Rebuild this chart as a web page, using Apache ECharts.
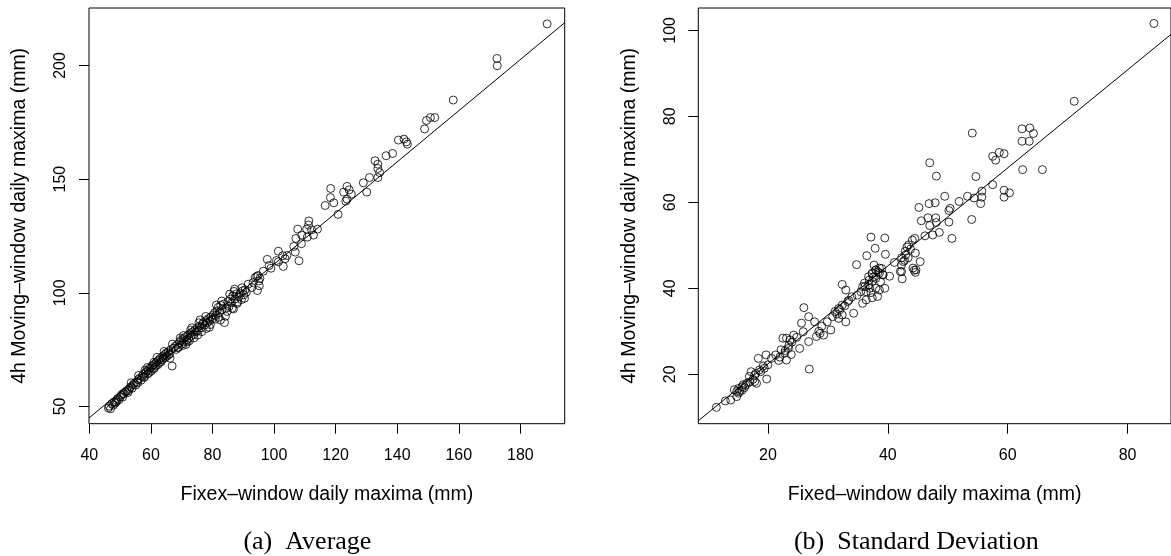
<!DOCTYPE html>
<html>
<head>
<meta charset="utf-8">
<script src="https://cdn.jsdelivr.net/npm/echarts@6/dist/echarts.min.js"></script>
<style>html,body{margin:0;padding:0;background:#fff;}#c{width:1171px;height:556px;}</style>
</head>
<body>
<div id="c"></div>
<script>
// ---------- data ----------
const xTicksA = [40, 60, 80, 100, 120, 140, 160, 180];
const yTicksA = [50, 100, 150, 200];
const xTicksB = [20, 40, 60, 80];
const yTicksB = [20, 40, 60, 80, 100];

const xLimA = [39.9, 194.4];
const yLimA = [42.4, 225.3];
const xLimB = [8.39, 87.25];
const yLimB = [8.5, 105.2];

// fitted line: [intercept, slope]
const fitA = [0, 1.1257];
const fitB = [-0.4, 1.14];

const pointsA = [
  [46.2,49.3],[46.5,50.1],[46.9,49.0],[47.3,51.2],[47.8,50.6],[48.1,52.0],[48.4,51.4],[48.9,52.6],[49.2,53.5],[49.6,52.9],
  [50.1,54.2],[50.4,55.0],[50.8,54.1],[51.3,55.6],[51.7,56.4],[52.2,57.0],[52.5,56.1],[53.0,57.9],[53.4,58.6],[53.9,58.0],
  [54.2,59.5],[54.6,60.2],[55.1,59.4],[55.4,60.9],[55.9,61.8],[56.3,62.4],[56.8,61.5],[57.2,63.3],[57.5,64.1],[57.9,62.8],
  [58.3,64.9],[58.6,65.5],[59.0,64.3],[59.3,66.2],[59.7,66.9],[60.1,65.6],[60.4,67.8],[60.8,68.3],[61.2,67.1],[61.5,69.0],
  [61.9,69.7],[62.3,68.4],[62.6,70.5],[63.0,71.1],[63.4,69.8],[63.8,72.0],[64.1,71.3],[64.5,72.8],[64.9,73.4],[65.2,72.1],
  [65.6,74.0],[66.1,73.3],[66.5,75.0],[66.9,67.8],[67.3,75.6],[67.8,76.4],[68.2,75.1],[68.6,77.3],[69.0,76.0],[69.3,78.2],
  [69.7,79.0],[70.1,77.5],[70.5,79.8],[70.8,78.6],[71.2,80.5],[71.6,79.2],[72.0,81.3],[72.3,80.0],[72.7,82.0],[73.1,81.0],
  [73.5,82.8],[73.9,81.7],[74.3,83.6],[74.7,82.9],[75.0,84.5],[75.4,83.3],[75.8,85.3],[76.0,88.1],[76.3,84.6],[76.7,86.2],
  [77.1,87.0],[77.5,85.8],[77.9,87.8],[78.3,86.9],[78.7,88.6],[79.1,87.7],[79.5,89.4],[79.9,88.5],[80.3,90.3],[80.7,91.2],
  [81.1,90.0],[81.5,92.0],[81.9,93.6],[82.3,91.3],[82.7,94.4],[83.1,92.6],[83.5,95.0],[83.9,86.9],[84.2,89.7],[84.6,93.4],
  [85.0,96.1],[85.4,94.0],[85.8,97.2],[86.2,95.6],[86.6,98.6],[87.0,100.6],[87.4,97.3],[87.8,99.5],[88.2,96.0],[88.6,98.2],
  [89.0,99.8],[89.4,97.0],[89.8,100.9],[90.2,99.1],[90.6,101.3],[91.0,100.2],[92.8,102.3],[93.9,106.7],[94.4,107.2],[94.8,107.6],
  [95.0,105.2],[95.2,103.1],[94.6,101.0],[95.4,106.3],
  [48.7,51.9],[50.9,55.6],[52.8,56.9],[55.7,60.3],[57.7,63.0],[59.5,65.0],[60.9,66.5],[61.7,68.0],[62.9,69.4],[63.7,70.6],
  [64.7,71.6],[65.9,72.8],[68.8,75.9],[70.3,76.8],[71.8,78.4],[72.5,78.9],[74.0,80.2],[76.5,82.9],[78.0,84.3],[79.3,86.0],
  [80.9,88.4],[82.0,89.2],[84.8,91.8],[86.4,93.2],[88.0,95.3],[61.0,69.4],[58.1,66.0],[69.5,80.1],[72.9,83.6],
  [53.6,60.4],[56.0,63.6],[58.9,67.2],[62.0,71.6],[64.3,74.2],[67.0,77.4],[70.6,81.2],[73.3,84.6],[75.6,86.8],[77.8,89.6],
  [81.3,94.6],[83.0,96.4],[85.6,99.4],[87.2,101.6],[89.6,102.2],[91.6,103.8],[66.2,71.2],[71.4,77.3],[75.2,81.4],[79.0,84.8],
  [82.6,88.0],[86.8,92.9],[90.4,97.6],[93.2,104.5],
  [96.5,109.5],[99.0,110.8],
  [97.8,114.7],[98.4,112.0],[101.4,118.3],[100.8,114.2],[101.4,113.6],[102.8,116.3],[103.6,115.0],[103.0,111.6],[104.2,116.4],[108.1,114.1],
  [106.4,120.4],[106.9,117.9],[108.9,121.6],[107.1,123.9],[109.0,125.4],[110.8,124.5],[112.8,125.4],[107.7,128.0],[110.6,128.0],[112.2,127.7],
  [114.1,128.0],[111.2,129.8],[111.3,131.6],[116.6,138.4],[118.3,141.9],[118.4,145.9],[119.4,139.6],[120.8,134.5],[122.6,144.3],[123.7,146.8],
  [124.4,145.3],[125.1,143.4],[123.7,141.2],[123.3,140.3],[129.0,148.4],[130.1,144.3],[131.0,150.7],[133.7,150.7],[134.3,152.9],[133.7,154.7],
  [133.7,156.6],[132.8,158.1],[136.4,160.3],[138.5,161.3],[140.4,167.2],[142.2,167.6],[143.0,166.4],[143.3,165.4],[148.9,172.1],[149.5,175.8],
  [150.8,177.1],[152.2,177.1],[158.2,184.8],[172.4,203.1],[172.5,199.9],[188.7,218.3]
];

const pointsB = [
  [84.4,101.6],[71.1,83.5],[62.4,77.1],[63.7,77.3],[64.3,76.0],[62.4,74.2],[63.6,74.2],[62.5,67.6],[65.8,67.6],[54.1,76.1],
  [57.5,70.7],[58.0,69.8],[58.6,71.6],[59.4,71.3],[57.5,64.1],[59.4,62.8],[60.3,62.2],[59.4,61.2],[55.7,62.6],[55.7,61.2],
  [55.5,59.7],[54.7,66.0],[54.4,61.0],[53.3,61.4],[54.0,56.0],[51.9,60.2],[49.5,61.4],[50.4,58.6],[50.2,58.1],[50.2,55.4],
  [50.7,51.6],[47.0,69.2],[48.1,66.1],[47.9,59.9],[46.9,59.7],[45.2,58.8],[45.6,55.7],[46.7,56.4],[48.0,56.4],[47.0,54.6],
  [48.1,55.3],[48.6,53.0],[47.5,52.4],[46.2,52.2],[44.5,51.6],[44.1,51.2],[43.8,49.1],[44.6,48.2],[43.4,47.1],[42.3,47.1],
  [42.8,46.5],[45.4,46.2],[41.1,46.0],[44.4,44.2],[44.6,43.7],[42.1,43.9],[37.2,51.9],[39.5,51.7],[37.9,49.3],[36.5,47.6],
  [39.6,47.9],[34.8,45.5],[38.6,44.7],[38.0,44.2],[37.4,43.4],[40.3,42.8],[39.2,43.2],
  [42.6,46.2],[42.3,45.4],[44.2,44.7],[44.7,44.3],[42.3,43.9],[42.4,42.2],[37.7,45.4],[38.0,44.3],[37.4,43.5],[36.8,42.7],
  [38.6,43.5],[39.2,43.1],[38.0,42.3],[37.4,41.6],[36.8,40.8],[36.1,41.2],[35.8,40.4],[35.5,39.2],[36.4,39.2],[37.0,40.0],
  [38.0,40.0],[38.6,39.6],[39.5,40.0],[38.3,38.1],[37.4,37.8],[36.4,37.3],[35.8,36.5],[34.3,34.2],[34.9,38.4],[32.4,40.9],
  [33.0,39.6],[33.3,36.9],[32.4,36.1],[31.8,35.3],[31.2,34.6],[30.8,33.4],[31.8,33.0],[33.0,32.2],[32.4,33.8],[29.9,32.2],
  [30.5,30.3],[29.3,29.1],[28.7,29.5],[28.1,28.8],[27.8,32.2],[26.8,33.4],[26.0,35.5],[25.6,31.9],[25.9,29.9],[25.3,26.0],
  [26.8,27.6],[26.9,21.2],[24.3,29.1],[23.7,28.0],[23.1,28.4],[22.5,28.4],[23.4,26.0],[22.8,24.9],[22.2,25.7],[23.1,23.3],
  [21.3,24.5],[20.6,23.7],[19.7,24.5],[20.0,22.2],[19.4,21.4],[18.4,23.7],[18.8,20.6],[19.8,18.9],[17.8,19.8],[17.2,20.6],
  [16.9,19.5],[17.8,18.3],[18.1,17.9],[16.3,17.5],[15.7,17.1],[15.1,16.7],[14.8,16.0],[14.4,16.4],[14.8,14.8],[13.8,14.0],
  [12.9,13.8],[11.4,12.3],[15.1,15.6],[15.7,16.3],
  [15.3,16.0],[15.9,17.6],[16.6,18.0],[17.5,18.8],[18.0,20.2],[18.6,21.0],[19.2,21.9],[17.0,18.2],[16.1,16.9],[22.9,25.5],
  [23.5,26.7],[24.0,27.5],[22.0,24.0],[24.8,28.6],[21.8,23.2],[23.9,24.6],[28.5,30.0],[29.0,31.2],[31.5,34.0],[32.0,35.0],
  [32.8,35.9],[33.5,37.2],[34.0,38.0],[36.2,40.4],[36.9,41.9],[37.6,42.6],[38.4,43.8],[39.0,44.6],[37.2,39.0],[38.8,41.5],
  [42.9,48.6],[43.2,49.6],[43.5,50.1],[43.0,47.8]
];

// ---------- chart ----------
const FONT = 'Liberation Sans, Arial, Helvetica, sans-serif';
const SERIF = 'Liberation Serif, Times New Roman, serif';

function fitLine(fit, xLim) {
  return [[xLim[0], fit[0] + fit[1] * xLim[0]], [xLim[1], fit[0] + fit[1] * xLim[1]]];
}

function xAxis(idx, lim, ticks, name) {
  return {
    gridIndex: idx, type: 'value', min: lim[0], max: lim[1],
    name: name, nameLocation: 'middle', nameGap: 61,
    nameTextStyle: { fontFamily: FONT, fontSize: 19.5, color: '#000' },
    axisLine: { show: false },
    axisTick: { show: true, inside: false, length: 10, customValues: ticks, lineStyle: { color: '#000', width: 1 } },
    axisLabel: { show: true, customValues: ticks, margin: 24, fontFamily: FONT, fontSize: 16, color: '#000' },
    splitLine: { show: false }
  };
}
function yAxis(idx, lim, ticks, name) {
  return {
    gridIndex: idx, type: 'value', min: lim[0], max: lim[1],
    name: name, nameLocation: 'middle', nameGap: 59,
    nameTextStyle: { fontFamily: FONT, fontSize: 19.5, color: '#000' },
    axisLine: { show: false },
    axisTick: { show: true, inside: false, length: 10, customValues: ticks, lineStyle: { color: '#000', width: 1 } },
    axisLabel: { show: true, customValues: ticks, rotate: 90, margin: 20, fontFamily: FONT, fontSize: 16, color: '#000' },
    splitLine: { show: false }
  };
}

const scatterStyle = {
  type: 'scatter', symbol: 'circle', symbolSize: 8,
  itemStyle: { color: 'rgba(0,0,0,0)', borderColor: '#000', borderWidth: 1 },
  emphasis: { disabled: true }, silent: true
};

const option = {
  backgroundColor: '#fff',
  animation: false,
  grid: [
    { left: 89, top: 8, width: 475.7, height: 415.7, show: true, borderColor: '#000', borderWidth: 1, backgroundColor: 'transparent' },
    { left: 698.3, top: 8, width: 475.7, height: 415.7, show: true, borderColor: '#000', borderWidth: 1, backgroundColor: 'transparent' }
  ],
  xAxis: [
    xAxis(0, xLimA, xTicksA, 'Fixex–window daily maxima (mm)'),
    xAxis(1, xLimB, xTicksB, 'Fixed–window daily maxima (mm)')
  ],
  yAxis: [
    yAxis(0, yLimA, yTicksA, '4h Moving–window daily maxima (mm)'),
    yAxis(1, yLimB, yTicksB, '4h Moving–window daily maxima (mm)')
  ],
  series: [
    Object.assign({}, scatterStyle, { xAxisIndex: 0, yAxisIndex: 0, data: pointsA }),
    Object.assign({}, scatterStyle, { xAxisIndex: 1, yAxisIndex: 1, data: pointsB }),
    { type: 'line', xAxisIndex: 0, yAxisIndex: 0, data: fitLine(fitA, xLimA), showSymbol: false, symbol: 'none', clip: true,
      lineStyle: { color: '#000', width: 1 }, silent: true },
    { type: 'line', xAxisIndex: 1, yAxisIndex: 1, data: fitLine(fitB, xLimB), showSymbol: false, symbol: 'none', clip: true,
      lineStyle: { color: '#000', width: 1 }, silent: true }
  ],
  graphic: [
    { type: 'text', x: 307.4, y: 542, style: { text: '(a)  Average', font: '26px ' + SERIF, fill: '#000', textAlign: 'center', textVerticalAlign: 'middle' } },
    { type: 'text', x: 916.3, y: 542, style: { text: '(b)  Standard Deviation', font: '26px ' + SERIF, fill: '#000', textAlign: 'center', textVerticalAlign: 'middle' } }
  ]
};

const chart = echarts.init(document.getElementById('c'), null, { renderer: 'canvas', width: 1171, height: 556 });
chart.setOption(option);
</script>
</body>
</html>
